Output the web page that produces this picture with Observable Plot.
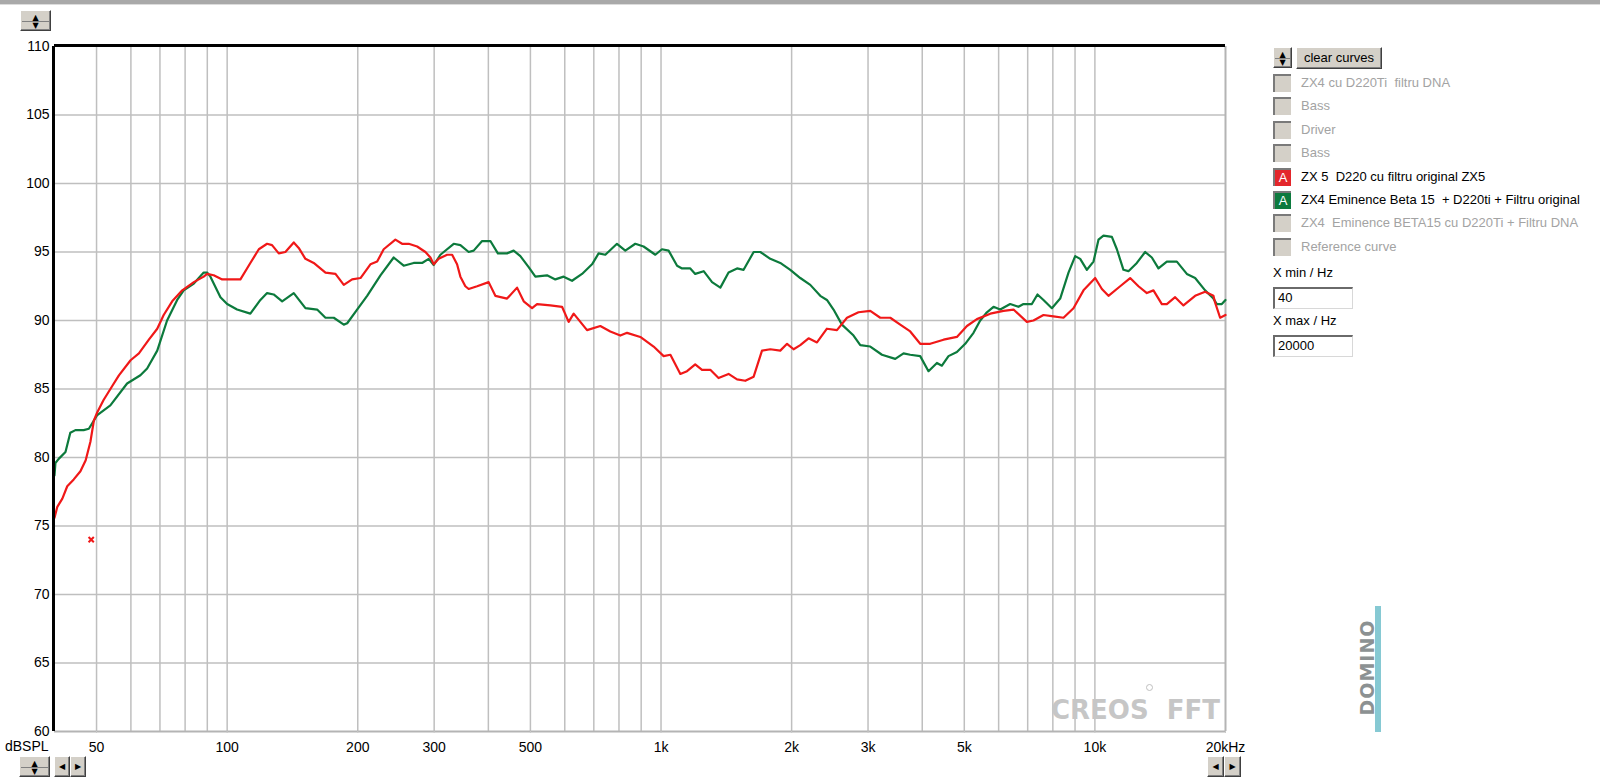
<!DOCTYPE html>
<html><head><meta charset="utf-8">
<script src="https://cdn.jsdelivr.net/npm/d3@7"></script>
<script src="https://cdn.jsdelivr.net/npm/@observablehq/plot@0.6"></script>
<style>
body{margin:0;background:#fff;font-family:"Liberation Sans",Arial,sans-serif;}
#wrap{position:relative;width:1600px;height:780px;overflow:hidden;background:#fff;}
#chart{position:absolute;left:0;top:0;}
.abs{position:absolute;}
.btn{position:absolute;background:#d4d0c8;border-style:solid;border-width:1px;border-color:#fff #404040 #404040 #fff;box-shadow:inset -1px -1px 0 #808080;box-sizing:border-box;}
.arr{position:absolute;font-size:8px;line-height:8px;color:#000;text-align:center;width:100%;font-family:"DejaVu Sans",sans-serif;}
.cb{position:absolute;width:18px;height:18px;box-sizing:border-box;border-top:2px solid #7a7a7a;border-left:2px solid #7a7a7a;background:#d4d0c8;color:#fff;font-size:13px;line-height:16px;text-align:center;}
.lt{position:absolute;font-size:13px;line-height:18px;white-space:pre;}
.inp{position:absolute;background:#fff;box-sizing:border-box;border-style:solid;border-width:2px 1px 1px 2px;border-color:#6a6a6a #d8d8d8 #d8d8d8 #6a6a6a;font-size:13px;line-height:18px;padding-left:3px;}
</style></head><body>
<div id="wrap"><div id="chart"></div></div>
<script>
// ---- data ----
const greenName = "ZX4 Eminence Beta 15  + D220ti + Filtru original";
const redName = "ZX 5  D220 cu filtru original ZX5";
const greenFreq = [40,40.2,40.9,42.4,43.5,44.7,46.7,48.0,49.3,50.2,53.8,58.8,63.1,65.4,69.0,72.7,76.7,79.4,83.8,88.3,89.9,91.5,96.5,100,105.4,113.1,119.3,123.6,128.0,133.9,142.4,151.5,161.2,168.5,176.1,185.7,189.1,199.3,210.2,225.6,242.0,255.2,269.1,281.4,291.4,299.3,310.1,315.6,332.8,344.8,360.3,370.0,386.9,404.3,420.7,441.7,457.4,474.0,495.4,513.3,546.1,570.7,596.4,623.6,657.6,693.4,718.1,744.1,791.6,827.3,872.4,911.7,970.2,1005,1041,1089,1118,1168,1199,1254,1311,1370,1431,1497,1550,1635,1694,1786,1883,1986,2094,2208,2328,2412,2498,2612,2778,2879,3036,3230,3466,3622,3753,3957,4135,4324,4440,4598,4808,5025,5251,5441,5638,5839,6050,6379,6666,6845,7157,7373,7612,7959,8318,8693,9007,9249,9584,9926,10192,10467,10943,11237,11637,11950,12494,13057,13529,14011,14649,15449,16290,17023,17950,18759,19100,19614,20000];
const greenDb = [78.7,79.6,79.9,80.4,81.8,82.0,82.0,82.1,82.7,83.1,83.8,85.4,86.0,86.5,87.8,90.0,91.5,92.2,92.7,93.5,93.5,93.2,91.7,91.2,90.8,90.5,91.5,92.0,91.9,91.4,92.0,90.9,90.8,90.2,90.2,89.7,89.8,90.8,91.8,93.3,94.6,94.0,94.2,94.2,94.5,94.05,94.8,95.0,95.6,95.5,95.0,95.1,95.8,95.8,94.9,94.9,95.1,94.7,93.9,93.2,93.3,93.0,93.2,92.9,93.4,94.1,94.9,94.8,95.6,95.1,95.6,95.4,94.8,95.2,95.1,94.0,93.8,93.8,93.4,93.6,92.8,92.4,93.5,93.8,93.7,95.0,95.0,94.5,94.2,93.7,93.1,92.6,91.8,91.5,90.8,89.7,88.9,88.2,88.1,87.5,87.2,87.6,87.5,87.4,86.3,86.9,86.7,87.4,87.7,88.3,89.1,90.0,90.6,91.0,90.8,91.2,91.0,91.2,91.2,91.9,91.5,90.9,91.6,93.5,94.7,94.5,93.7,94.3,95.9,96.2,96.1,95.2,93.7,93.6,94.2,95.0,94.6,93.8,94.3,94.3,93.4,93.1,92.2,91.6,91.2,91.2,91.5];
const redFreq = [40,40.6,41.7,42.8,44.3,45.9,47.2,48.4,49.3,50.2,51.9,54.3,56.3,59.9,62.6,66.0,69.0,71.4,74.7,78.8,83.8,88.3,89.9,93.1,97.4,107.3,113.1,118.3,123.6,126.9,131.5,136.2,142.4,146.2,151.5,158.3,168.5,177.7,185.7,194.1,202.9,213.9,221.7,229.5,244.2,253.0,262.1,274.1,286.4,294.1,299.3,307.3,321.3,330.0,338.8,344.8,354.0,360.3,376.8,400.6,415.1,441.7,465.8,482.5,504.4,517.9,555.8,591.4,612.5,629.0,675.3,724.6,764.1,805.8,835.0,895.9,961.5,1014,1051,1108,1148,1199,1243,1299,1357,1431,1497,1564,1635,1709,1786,1883,1952,2021,2094,2188,2288,2412,2544,2683,2852,3036,3201,3376,3559,3753,3957,4173,4479,4808,5071,5347,5739,6157,6494,6969,7218,7612,8027,8465,8926,9413,10016,10378,10747,11436,12058,12601,13176,13645,14267,14649,15310,16000,17023,17950,18759,18929,19438,20000];
const redDb = [75.6,76.4,77.0,77.9,78.4,79.0,79.8,81.15,82.7,83.3,84.2,85.2,86.0,87.1,87.6,88.6,89.4,90.4,91.4,92.2,92.8,93.2,93.4,93.3,93.0,93.0,94.2,95.2,95.6,95.5,94.9,95.0,95.7,95.3,94.5,94.2,93.5,93.4,92.6,93.0,93.1,94.1,94.3,95.2,95.9,95.6,95.6,95.4,95.0,94.6,94.1,94.5,94.8,94.8,94.1,93.2,92.5,92.3,92.5,92.8,91.8,91.6,92.4,91.4,90.9,91.2,91.1,91.0,89.9,90.5,89.3,89.6,89.2,88.9,89.1,88.8,88.1,87.4,87.5,86.1,86.3,86.8,86.4,86.4,85.8,86.1,85.7,85.6,85.9,87.8,87.9,87.8,88.3,87.9,88.2,88.7,88.4,89.4,89.3,90.2,90.6,90.7,90.2,90.2,89.7,89.2,88.3,88.3,88.6,88.8,89.6,90.1,90.5,90.7,90.8,89.9,90.0,90.4,90.3,90.2,90.9,92.2,93.1,92.3,91.8,92.5,93.1,92.5,92.0,92.2,91.2,91.2,91.7,91.1,91.8,92.1,91.8,91.3,90.2,90.4];
const markerFreq = [48.6];
const markerDb = [74.0];
const xTicks = [50,100,200,300,500,1000,2000,3000,5000,10000,20000];
const xTickLabels = ["50","100","200","300","500","1k","2k","3k","5k","10k","20kHz"];
const xGrid = [50,60,70,80,90,100,200,300,400,500,600,700,800,900,1000,2000,3000,4000,5000,6000,7000,8000,9000,10000];
const yTicks = [60,65,70,75,80,85,90,95,100,105,110];
const yGrid = [65,70,75,80,85,90,95,100,105];
const legendLabels = ["ZX4 cu D220Ti  filtru DNA","Bass","Driver","Bass",redName,greenName,"ZX4  Eminence BETA15 cu D220Ti + Filtru DNA","Reference curve"];
const legendState = ["off","off","off","off","red","green","off","off"];
const xMin = "40", xMax = "20000";

const GREEN = "#0c7a3c", RED = "#f01818";
const green = greenFreq.map((f,i)=>({f, db: greenDb[i]}));
const red = redFreq.map((f,i)=>({f, db: redDb[i]}));
const marker = markerFreq.map((f,i)=>({f, db: markerDb[i]}));

const chart = Plot.plot({
  width: 1600, height: 780,
  marginLeft: 54, marginRight: 375, marginTop: 46, marginBottom: 49,
  style: {fontFamily: '"Liberation Sans",Arial,sans-serif', fontSize: "14px", background: "transparent", color: "#000", overflow: "visible"},
  x: {type: "log", domain: [40, 20000], axis: null, label: null},
  y: {domain: [60, 110], axis: null, label: null},
  marks: [
    Plot.ruleX(xGrid, {stroke: "#bfbfbf", strokeWidth: 1.5}),
    Plot.ruleY(yGrid, {stroke: "#bfbfbf", strokeWidth: 1.5}),
    Plot.ruleX([20000], {stroke: "#b4b4b4", strokeWidth: 2}),
    Plot.ruleY([60], {stroke: "#b4b4b4", strokeWidth: 2}),
    Plot.line(green, {x: "f", y: "db", stroke: GREEN, strokeWidth: 2.2}),
    Plot.line(red, {x: "f", y: "db", stroke: RED, strokeWidth: 2.2}),
    Plot.dot(marker, {x: "f", y: "db", symbol: "times", r: 2.5, stroke: RED, strokeWidth: 2}),
    Plot.ruleY([110], {stroke: "#000", strokeWidth: 3, dy: -1}),
    Plot.ruleX([40], {stroke: "#000", strokeWidth: 3, dx: -1}),
    Plot.axisY(yTicks, {tickSize: 0, tickPadding: 5, fontSize: 14, label: null}),
    Plot.axisX(xTicks, {tickSize: 2, tickPadding: 9, fontSize: 14, label: null, stroke: "#c8c8c8", fill: "#000", tickFormat: d => xTickLabels[xTicks.indexOf(d)]})
  ]
});
document.getElementById("chart").appendChild(chart);

// ---- surrounding window chrome ----
const wrap = document.getElementById("wrap");
function el(cls, css, html){const d=document.createElement("div");d.className=cls;Object.assign(d.style,css);if(html!==undefined)d.innerHTML=html;wrap.appendChild(d);return d;}
el("abs",{left:"0px",top:"0px",width:"1600px",height:"4px",background:"#a9a9a9"});
el("abs",{left:"0px",top:"4px",width:"1600px",height:"1px",background:"#dcdcdc"});
function spinner(x,y,w,h){const b=el("btn",{left:x+"px",top:y+"px",width:w+"px",height:h+"px"});
  b.innerHTML='<div class="arr" style="top:'+(h/2-8)+'px">&#9650;</div><div style="position:absolute;left:1px;right:1px;top:'+(h/2-1)+'px;height:1px;background:#808080"></div><div class="arr" style="top:'+(h/2)+'px">&#9660;</div>';}
function lr(x,y,w,h){const hw=w/2;
  el("btn",{left:x+"px",top:y+"px",width:hw+"px",height:h+"px"},'<div class="arr" style="top:'+(h/2-5)+'px">&#9664;</div>');
  el("btn",{left:(x+hw)+"px",top:y+"px",width:hw+"px",height:h+"px"},'<div class="arr" style="top:'+(h/2-5)+'px">&#9654;</div>');}
spinner(20,10,31,21);
spinner(19,756,31,21);
lr(54,756,32,21);
lr(1207,756,34,21);
el("lt",{left:"5px",top:"737px",fontSize:"14px"},"dBSPL");

// watermarks
el("abs",{left:"1051px",top:"695px",fontFamily:'"DejaVu Sans",sans-serif',fontWeight:"bold",fontSize:"26px",lineHeight:"30px",color:"#c6c6c6",whiteSpace:"pre"},"CREOS  FFT");
el("abs",{left:"1146px",top:"684px",width:"5px",height:"5px",border:"1px solid #c0c0c0",borderRadius:"50%"});
el("abs",{left:"1375px",top:"606px",width:"6px",height:"126px",background:"#86c9d3"});
el("abs",{left:"1307px",top:"658px",width:"120px",height:"19px",transform:"rotate(-90deg)",fontFamily:'"DejaVu Sans",sans-serif',fontWeight:"bold",fontSize:"19px",lineHeight:"19px",color:"#8c9192",textAlign:"center",letterSpacing:"1px"},"DOMINO");

// legend panel
spinner(1273,47,19,21);
el("btn",{left:"1296px",top:"47px",width:"86px",height:"22px",fontSize:"13px",lineHeight:"19px",textAlign:"center"},"clear curves");
legendLabels.forEach((lab,i)=>{
  const cy = 82.7 + i*23.45;
  const st = legendState[i];
  const bg = st==="red" ? "#e3262b" : st==="green" ? "#0d7a3e" : "#d4d0c8";
  el("cb",{left:"1273px",top:(cy-9)+"px",background:bg}, st==="off" ? "" : "A");
  el("lt",{left:"1301px",top:(cy-9)+"px",color: st==="off" ? "#a3a3a3" : "#000"}, lab);
});
el("lt",{left:"1273px",top:"264px"},"X min / Hz");
el("inp",{left:"1273px",top:"287px",width:"80px",height:"22px"},xMin);
el("lt",{left:"1273px",top:"312px"},"X max / Hz");
el("inp",{left:"1273px",top:"335px",width:"80px",height:"22px"},xMax);
</script>
</body></html>
